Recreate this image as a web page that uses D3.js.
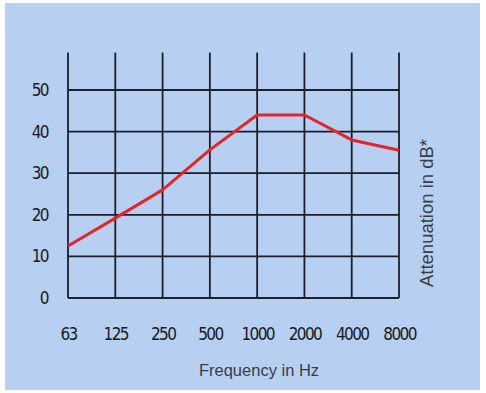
<!DOCTYPE html>
<html>
<head>
<meta charset="utf-8">
<script src="https://cdn.jsdelivr.net/npm/d3@7"></script>
<style>
body { margin: 0; background: #ffffff; }
</style>
</head>
<body>
<script>
var width = 486, height = 393;

var frequencies = ["63","125","250","500","1000","2000","4000","8000"];
var attenuation = [12.5, 19.2, 26, 35.6, 44, 44, 38, 35.5];
var yTicks = [0, 10, 20, 30, 40, 50];

var svg = d3.select("body")
.append("svg")
.attr("width", width)
.attr("height", height)
.attr("id","svg");

svg.append("rect")
.attr("x", 5).attr("y", 3)
.attr("width", 475).attr("height", 387)
.attr("fill", "#b7cff0");

var x = d3.scalePoint()
.domain(frequencies)
.range([68, 399]);

var y = d3.scaleLinear()
.domain([0, 50])
.range([298, 90]);

var grid = svg.append("g").attr("id","grid");

// vertical lines go up past the 50 line
grid.selectAll(".vline")
.data(frequencies)
.enter().append("line")
.attr("class","vline")
.attr("x1", function(d){ return x(d); })
.attr("x2", function(d){ return x(d); })
.attr("y1", y(0))
.attr("y2", y(59))
.attr("stroke","#1c1f2a")
.attr("stroke-width",1.8);

grid.selectAll(".hline")
.data(yTicks)
.enter().append("line")
.attr("class","hline")
.attr("x1", x("63"))
.attr("x2", x("8000"))
.attr("y1", function(d){ return y(d); })
.attr("y2", function(d){ return y(d); })
.attr("stroke","#1c1f2a")
.attr("stroke-width",1.8);

function tickStyle(sel){
    sel.attr("font-family","DejaVu Sans Condensed, DejaVu Sans, sans-serif")
    .attr("font-stretch","condensed")
    .attr("font-size",17)
    .attr("letter-spacing",-1.6)
    .attr("fill","#1a1a22");
}

// y tick labels
svg.append("g")
.attr("transform","translate(48,0)")
.call(d3.axisLeft(y).tickValues(yTicks).tickSize(0).tickPadding(0))
.call(function(g){ g.select(".domain").remove(); })
.selectAll("text")
.call(tickStyle);

// x tick labels
svg.append("g")
.attr("transform","translate(0,328)")
.call(d3.axisBottom(x).tickSize(0).tickPadding(0))
.call(function(g){ g.select(".domain").remove(); })
.selectAll("text")
.call(tickStyle);

var line = d3.line()
.x(function(d, i){ return x(frequencies[i]); })
.y(function(d){ return y(d); });

svg.append("path")
.datum(attenuation)
.attr("d", line)
.attr("fill","none")
.attr("stroke","#e3242b")
.attr("stroke-width",3)
.attr("stroke-linejoin","round");

svg.append("text")
.attr("x", 259)
.attr("y", 376)
.attr("text-anchor","middle")
.attr("font-family","Liberation Sans, sans-serif")
.attr("font-size",16.5)
.attr("fill","#3a3d48")
.text("Frequency in Hz");

svg.append("text")
.attr("transform","translate(433,213) rotate(-90)")
.attr("text-anchor","middle")
.attr("font-family","Liberation Sans, sans-serif")
.attr("font-size",18.5)
.attr("fill","#3a3d48")
.text("Attenuation in dB*");
</script>
</body>
</html>
